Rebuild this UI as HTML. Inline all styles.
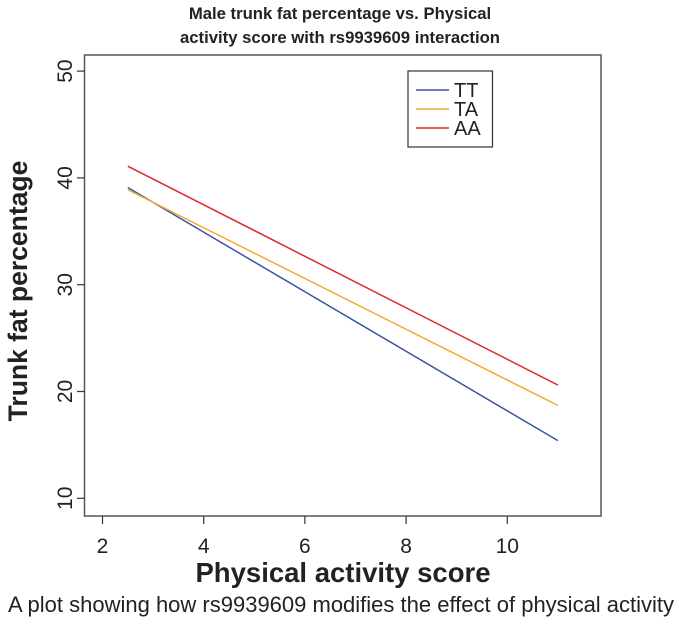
<!DOCTYPE html>
<html><head><meta charset="utf-8"><style>
body{margin:0;background:#fff;width:679px;height:619px;overflow:hidden}
svg text{font-family:"Liberation Sans",sans-serif;fill:#222}
</style></head><body>
<svg width="679" height="619">
<text x="340" y="19" text-anchor="middle" font-size="16.7" font-weight="bold">Male trunk fat percentage vs. Physical</text>
<text x="340" y="43" text-anchor="middle" font-size="16.7" font-weight="bold">activity score with rs9939609 interaction</text>
<rect x="84.5" y="55" width="516.5" height="461" fill="none" stroke="#555" stroke-width="1.5"/>
<g id="axes"></g>
<g id="lines"></g>
<text x="343" y="582" text-anchor="middle" font-size="27.5" font-weight="bold">Physical activity score</text>
<text transform="translate(27,291) rotate(-90)" text-anchor="middle" font-size="26.5" font-weight="bold">Trunk fat percentage</text>
<text x="341" y="612" text-anchor="middle" font-size="22">A plot showing how rs9939609 modifies the effect of physical activity</text>
<g>
<rect x="408" y="71" width="84.5" height="76" fill="#fff" stroke="#333" stroke-width="1.2"/>
<g id="legend"></g>
</g>
</svg>
<script>
const xTicks=[2,4,6,8,10];
const yTicks=[10,20,30,40,50];
const seriesNames=["TT","TA","AA"];
const seriesColors=["#3b55a3","#f2aa33","#e0282e"];
const xStart=[2.5,2.5,2.5];
const xEnd=[11,11,11];
const yStart=[39.1,38.9,41.1];
const yEnd=[15.4,18.7,20.6];
const NS="http://www.w3.org/2000/svg";
const sx=v=>102.5+(v-2)*50.6;
const sy=v=>498.3-(v-10)*10.68;
function mk(tag,attrs,parent){const e=document.createElementNS(NS,tag);for(const k in attrs)e.setAttribute(k,attrs[k]);parent.appendChild(e);return e;}
const ax=document.getElementById('axes');
xTicks.forEach(t=>{
 const l=mk('line',{x1:sx(t),x2:sx(t),y1:516,y2:524,stroke:'#333','stroke-width':1.2},ax);
 
 
 const tx=mk('text',{x:sx(t),y:553,'text-anchor':'middle','font-size':21},ax);
 tx.textContent=t;
 
 
});
yTicks.forEach(t=>{
 const l=mk('line',{x1:77,x2:84.5,y1:sy(t),y2:sy(t),stroke:'#333','stroke-width':1.2},ax);
 
 
 const tx=mk('text',{transform:`translate(72,${sy(t)}) rotate(-90)`,'text-anchor':'middle','font-size':21},ax);
 tx.textContent=t;
 
 
});
const lg=document.getElementById('lines');
const leg=document.getElementById('legend');
seriesNames.forEach((n,i)=>{
 const l=mk('line',{x1:sx(xStart[i]),y1:sy(yStart[i]),x2:sx(xEnd[i]),y2:sy(yEnd[i]),stroke:seriesColors[i],'stroke-width':1.5},lg);
 
 
 const y=90+i*19;
 const ll=mk('line',{x1:416,x2:449,y1:y,y2:y,stroke:seriesColors[i],'stroke-width':1.5},leg);
 
 
 const t=mk('text',{x:454,y:y+7,'font-size':20},leg);
 t.textContent=n;
 
 
});
</script>
</body></html>
